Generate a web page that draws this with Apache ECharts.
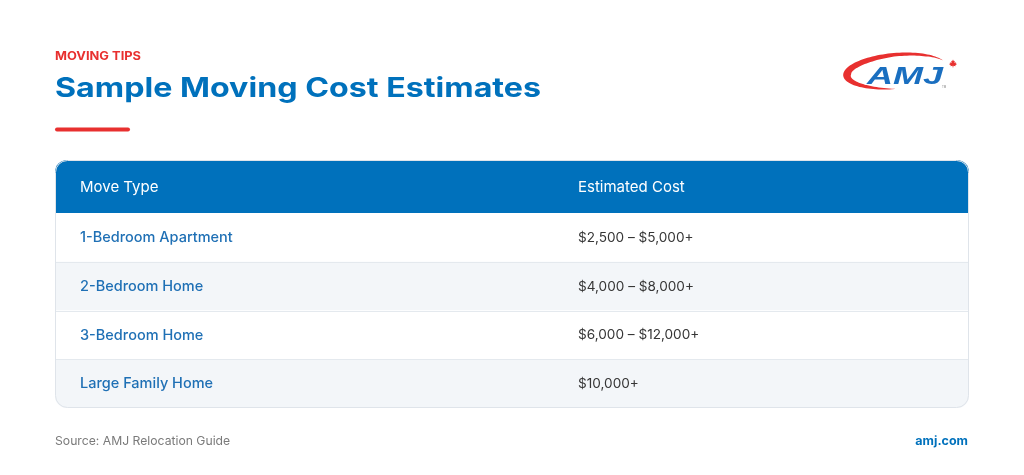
<!DOCTYPE html>
<html><head><meta charset="utf-8">
<script src="https://cdn.jsdelivr.net/npm/echarts@6/dist/echarts.min.js"></script>
<style>html,body{margin:0;padding:0;background:#fff}#c{width:1024px;height:475px}</style>
</head><body><div id="c"></div>
<script>
// ---- data ----
const eyebrow = 'MOVING TIPS';
const title = 'Sample Moving Cost Estimates';
const columns = ['Move Type', 'Estimated Cost'];
const moveTypes = ['1-Bedroom Apartment', '2-Bedroom Home', '3-Bedroom Home', 'Large Family Home'];
const costLow = [2500, 4000, 6000, 10000];
const costHigh = [5000, 8000, 12000, null];
const sourceText = 'Source: AMJ Relocation Guide';
const siteText = 'amj.com';

// ---- helpers ----
const money = v => '$' + v.toLocaleString('en-US');
const costLabels = costLow.map((lo, i) => costHigh[i] == null ? money(lo) + '+' : money(lo) + ' \u2013 ' + money(costHigh[i]) + '+');

const FONT = 'Inter, "Noto Sans", sans-serif';
const BLUE = '#0071bc';
const RED = '#e8302f';

const ctx = document.createElement('canvas').getContext('2d');
function fitScale(text, font, target) {
  ctx.font = font;
  const w = ctx.measureText(text).width;
  return w > 0 ? target / w : 1;
}

// table frame
const T = { left: 55, right: 55, top: 160, header: 53, bottom: 67 };
const W = 1024, H = 475;
const tableW = W - T.left - T.right;
const col2Frac = 523 / 914;

// logo swoosh polygon (decorative)
function swoosh() {
  const cx = 895, cy = 71, rx = 52, ry = 18, phi = -5 * Math.PI / 180;
  const a0 = -22, a1 = -268;
  const knots = [[0, 0.3], [0.12, 2.6], [0.28, 3.6], [0.5, 6.5], [0.63, 8], [0.75, 5.5], [0.88, 3], [1, 0.3]];
  const wAt = s => {
    for (let k = 1; k < knots.length; k++) {
      if (s <= knots[k][0]) {
        const [s0, w0] = knots[k - 1], [s1, w1] = knots[k];
        return w0 + (w1 - w0) * (s - s0) / (s1 - s0);
      }
    }
    return 0.3;
  };
  const outer = [], inner = [];
  const n = 80;
  for (let k = 0; k <= n; k++) {
    const s = k / n;
    const th = (a0 + (a1 - a0) * s) * Math.PI / 180;
    const w = wAt(s);
    const pts = [[rx * Math.cos(th), ry * Math.sin(th)], [(rx - w) * Math.cos(th), (ry - w) * Math.sin(th)]];
    const rot = pts.map(([x, y]) => [cx + x * Math.cos(phi) - y * Math.sin(phi), cy + x * Math.sin(phi) + y * Math.cos(phi)]);
    outer.push(rot[0]); inner.push(rot[1]);
  }
  return outer.concat(inner.reverse());
}
function maple(cx, cy, s) {
  const p = [[0,-5],[1,-3],[2,-3.5],[1.6,-1],[3.5,-2],[3,-0.5],[4.5,0],[2.5,1.5],[3,2.5],[0.5,2],[0.3,4],[-0.3,4],[-0.5,2],[-3,2.5],[-2.5,1.5],[-4.5,0],[-3,-0.5],[-3.5,-2],[-1.6,-1],[-2,-3.5],[-1,-3]];
  return p.map(([x, y]) => [cx + x * s, cy + y * s]);
}

const titleFont = '700 27px ' + FONT;
const eyebrowFont = '700 12px ' + FONT;
const logoFont = 'italic 900 24px "Liberation Sans", Arial, sans-serif';

const chart = echarts.init(document.getElementById('c'), null, { renderer: 'canvas' });

chart.setOption({
  backgroundColor: '#ffffff',
  animation: false,
  grid: { left: T.left, right: T.right, top: T.top + T.header, bottom: T.bottom },
  xAxis: { type: 'value', min: 0, max: 1, show: false },
  yAxis: { type: 'category', data: moveTypes, inverse: true, show: false },
  series: [{
    type: 'custom',
    data: moveTypes.map((t, i) => [0, i]),
    renderItem: function (params, api) {
      const idx = api.value(1);
      const c = api.coord([0, idx]);
      const band = api.size([0, 1])[1];
      const cs = params.coordSys;
      const y0 = c[1] - band / 2;
      const last = idx === moveTypes.length - 1;
      const children = [{
        type: 'rect',
        shape: { x: cs.x, y: y0, width: cs.width, height: band, r: last ? [0, 0, 12, 12] : 0 },
        style: { fill: idx % 2 ? '#f3f6f9' : '#ffffff' }
      }];
      if (idx > 0) {
        children.push({
          type: 'line',
          shape: { x1: cs.x, y1: Math.round(y0) + 0.5, x2: cs.x + cs.width, y2: Math.round(y0) + 0.5 },
          style: { stroke: '#e4e9ee', lineWidth: 1 }
        });
      }
      children.push({
        type: 'text',
        x: cs.x + 25, y: c[1] + 0.5,
        style: { text: moveTypes[idx], fill: '#1f70b5', font: '500 14.5px ' + FONT, verticalAlign: 'middle', align: 'left' }
      });
      children.push({
        type: 'text',
        x: cs.x + cs.width * col2Frac, y: c[1] + 0.5,
        style: { text: costLabels[idx], fill: '#363636', font: '400 13.6px ' + FONT, verticalAlign: 'middle', align: 'left' }
      });
      return { type: 'group', children: children };
    }
  }],
  graphic: [
    { type: 'text', x: 55, y: 56.5, scaleX: fitScale(eyebrow, eyebrowFont, 86), style: { text: eyebrow, fill: RED, font: eyebrowFont, verticalAlign: 'middle' } },
    { type: 'text', x: 55, y: 89, scaleX: fitScale(title, titleFont, 486), style: { text: title, fill: BLUE, font: titleFont, verticalAlign: 'middle' } },
    { type: 'rect', shape: { x: 55, y: 127.5, width: 75, height: 4, r: 2 }, style: { fill: RED } },
    // header
    { type: 'rect', shape: { x: T.left, y: T.top, width: tableW, height: T.header, r: [12, 12, 0, 0] }, style: { fill: BLUE }, z: 10 },
    { type: 'text', x: T.left + 25, y: T.top + T.header / 2 + 0.5, style: { text: columns[0], fill: '#ffffff', font: '400 15px ' + FONT, verticalAlign: 'middle' }, z: 11 },
    { type: 'text', x: T.left + tableW * col2Frac, y: T.top + T.header / 2 + 0.5, style: { text: columns[1], fill: '#ffffff', font: '400 15px ' + FONT, verticalAlign: 'middle' }, z: 11 },
    // border
    { type: 'rect', shape: { x: T.left + 0.5, y: T.top + 0.5, width: tableW - 1, height: H - T.top - T.bottom - 1, r: 12 }, style: { fill: null, stroke: '#dfe4ea', lineWidth: 1 }, z: 12 },
    // footer
    { type: 'text', x: 55, y: 441, style: { text: sourceText, fill: '#7a7a7a', font: '400 12.2px ' + FONT, verticalAlign: 'middle' } },
    { type: 'text', x: 968, y: 441, style: { text: siteText, fill: BLUE, font: '700 12.5px ' + FONT, verticalAlign: 'middle', align: 'right' } },
    // logo
    { type: 'polygon', shape: { points: swoosh() }, style: { fill: '#e8302f' }, z: 5 },
    { type: 'text', x: 867, y: 77, scaleX: fitScale('AMJ', logoFont, 76), style: { text: 'AMJ', fill: '#1a6fc0', font: logoFont, verticalAlign: 'middle', stroke: '#ffffff', lineWidth: 1.5 }, z: 6 },
    { type: 'text', x: 942, y: 87, style: { text: 'TM', fill: '#8a8a8a', font: '400 3px sans-serif', verticalAlign: 'middle' }, z: 6 },
    { type: 'polygon', shape: { points: maple(953, 64, 0.9) }, style: { fill: '#e8302f' }, z: 6 }
  ]
});
</script>
</body></html>
